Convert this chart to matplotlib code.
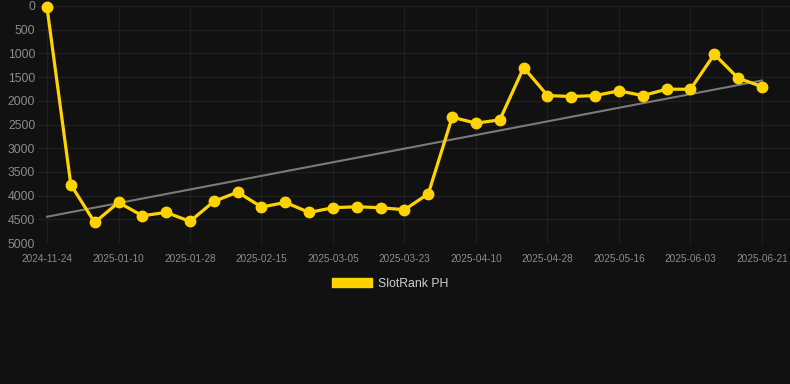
import numpy as np
import matplotlib
matplotlib.use("Agg")
import matplotlib.pyplot as plt

plt.rcParams["font.family"] = ["Liberation Sans", "DejaVu Sans"]

dates = ["2024-11-24", "2024-12-29", "2025-01-04", "2025-01-10", "2025-01-16", "2025-01-22",
         "2025-01-28", "2025-02-03", "2025-02-09", "2025-02-15", "2025-02-21", "2025-02-27",
         "2025-03-05", "2025-03-11", "2025-03-17", "2025-03-23", "2025-03-29", "2025-04-04",
         "2025-04-10", "2025-04-16", "2025-04-22", "2025-04-28", "2025-05-04", "2025-05-10",
         "2025-05-16", "2025-05-22", "2025-05-28", "2025-06-03", "2025-06-09", "2025-06-15",
         "2025-06-21"]
ranks = [30, 3770, 4566, 4144, 4425, 4355, 4544, 4123, 3926, 4242, 4144, 4355, 4256, 4235,
         4256, 4298, 3961, 2346, 2472, 2402, 1299, 1889, 1910, 1889, 1791, 1889, 1756, 1756,
         1018, 1524, 1700]
yticks = [0, 500, 1000, 1500, 2000, 2500, 3000, 3500, 4000, 4500, 5000]
series_name = "SlotRank PH"

bg = "#111111"
fig = plt.figure(figsize=(7.9, 3.84), dpi=100, facecolor=bg)
W, H = 790, 384
left_px, right_px, top_px, bot_px = 38, 790, 6, 243
ax = fig.add_axes([left_px / W, 1 - bot_px / H, (right_px - left_px) / W, (bot_px - top_px) / H])
ax.set_facecolor(bg)

x = np.arange(len(ranks))
step = 23.83
ax.set_xlim(-(47 - left_px) / step, 30 + (right_px - 762) / step)
ax.set_ylim(5000, 0)

# trend line (least-squares fit of the series)
coef = np.polyfit(x, ranks, 1)
ax.plot([x[0], x[-1]], np.polyval(coef, [x[0], x[-1]]), color="#7a7a7a", lw=1.5, zorder=2)

ax.plot(x, ranks, color="#FFD300", lw=2.3, marker="o", markersize=7.5, zorder=3,
        clip_on=False, label=series_name)

ax.set_yticks(yticks)
ax.set_yticklabels([str(v) for v in yticks])
tick_idx = list(range(0, len(dates), 3))
ax.set_xticks(tick_idx)
ax.set_xticklabels([dates[i] for i in tick_idx])

ax.grid(True, color="#1f1f1f", lw=1.0)
ax.set_axisbelow(True)
for s in ax.spines.values():
    s.set_visible(False)
ax.tick_params(axis="y", colors="#8c8c8c", labelsize=8.8, length=0, pad=2)
ax.tick_params(axis="x", colors="#8c8c8c", labelsize=7.2, length=0, pad=8)

leg = fig.legend(handles=[plt.Rectangle((0, 0), 1, 1, color="#FFD300")], labels=[series_name],
                 loc="center", bbox_to_anchor=(390 / W, 1 - 284 / H), frameon=False,
                 handlelength=3.3, handleheight=0.8, handletextpad=0.5,
                 prop={"size": 8.8})
for t in leg.get_texts():
    t.set_color("#d0d0d0")

fig.savefig("out.png", dpi=100, facecolor=bg)
